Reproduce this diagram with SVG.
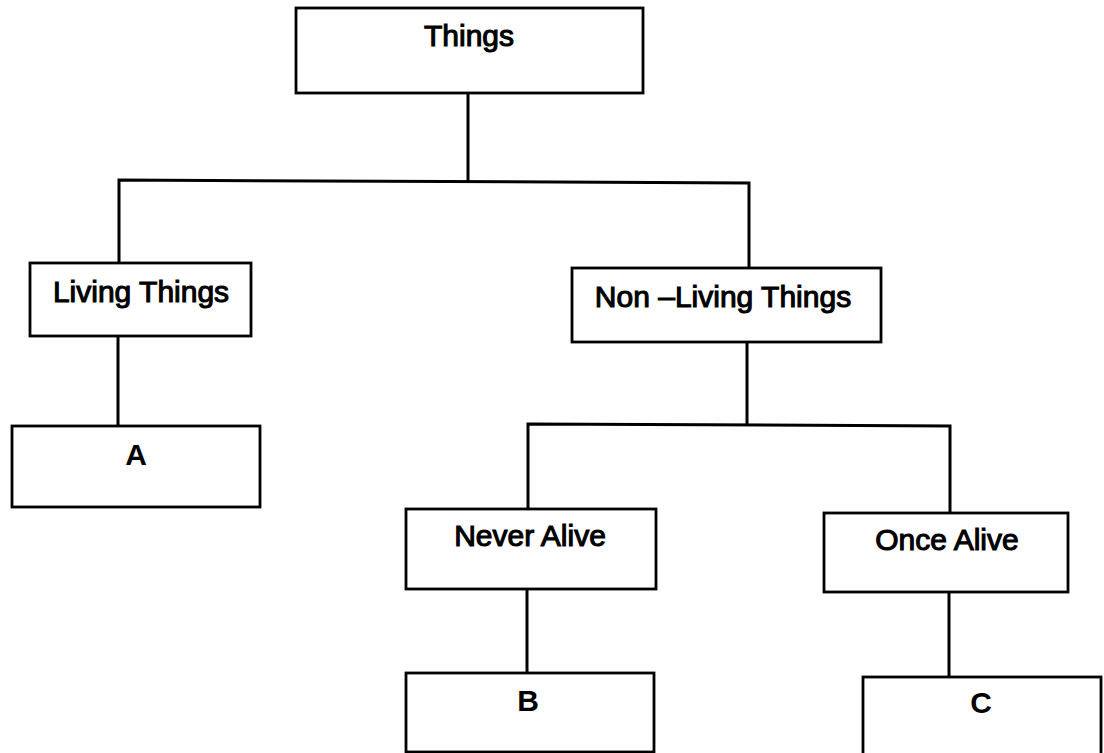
<svg xmlns="http://www.w3.org/2000/svg" width="1104" height="753" viewBox="0 0 1104 753">
<style>
.box{fill:#fff;stroke:#000;stroke-width:2.8}
.lbl{font-family:"Liberation Sans",Arial,sans-serif;font-size:30px;fill:#000;stroke:#000;stroke-width:1.1;text-anchor:middle}
.ltr{font-family:"Liberation Sans",Arial,sans-serif;font-size:30px;font-weight:bold;fill:#000;text-anchor:middle}
.con{fill:none;stroke:#000;stroke-width:3}
</style>
<rect width="1104" height="753" fill="#fff"/>
<g id="connectors">
<polyline class="con" points="468,93 468,181"/>
<polyline class="con" points="119,263 119,180 749,183 749,268"/>
<polyline class="con" points="118,336 118,426"/>
<polyline class="con" points="747,342 747,425"/>
<polyline class="con" points="528,509 528,424 950,426 950,513"/>
<polyline class="con" points="527,589 527,673"/>
<polyline class="con" points="949,592 949,677"/>
</g>
<g id="things">
<rect class="box" x="296" y="8" width="347" height="85"/>
<text class="lbl" x="469" y="46">Things</text>
</g>
<g id="living">
<rect class="box" x="30" y="263" width="221" height="73"/>
<text class="lbl" x="141" y="302">Living Things</text>
</g>
<g id="nonliving">
<rect class="box" x="572" y="268" width="309" height="74"/>
<text class="lbl" x="723" y="307">Non –Living Things</text>
</g>
<g id="a">
<rect class="box" x="12" y="426" width="248" height="81"/>
<text class="ltr" x="136" y="465">A</text>
</g>
<g id="never">
<rect class="box" x="406" y="509" width="250" height="80"/>
<text class="lbl" x="530" y="546">Never Alive</text>
</g>
<g id="once">
<rect class="box" x="824" y="513" width="244" height="79"/>
<text class="lbl" x="947" y="550">Once Alive</text>
</g>
<g id="b">
<rect class="box" x="406" y="673" width="248" height="79"/>
<text class="ltr" x="528" y="711">B</text>
</g>
<g id="c">
<rect class="box" x="863" y="677" width="238" height="80"/>
<text class="ltr" x="981" y="713">C</text>
</g>
</svg>
